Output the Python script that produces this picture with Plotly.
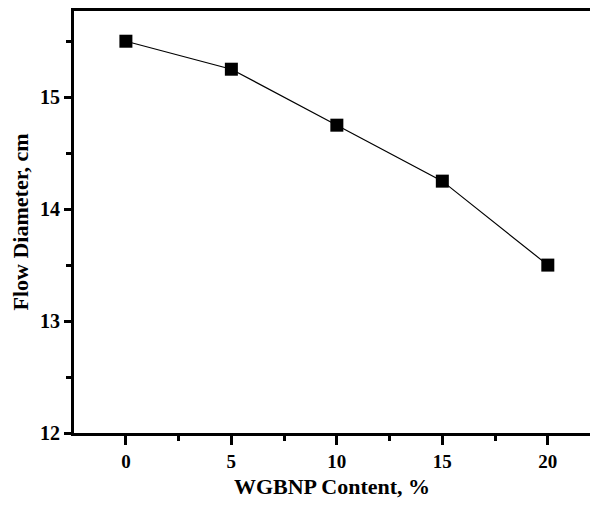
import plotly.graph_objects as go

# WGBNP content (%) and measured flow diameter (cm)
content = [0, 5, 10, 15, 20]
flow_diameter = [15.5, 15.25, 14.75, 14.25, 13.5]
x_ticks = [0, 5, 10, 15, 20]
y_ticks = [12, 13, 14, 15]

font_family = "Liberation Serif, Times New Roman, serif"

fig = go.Figure(
    go.Scatter(
        x=content,
        y=flow_diameter,
        mode="lines+markers",
        line=dict(color="black", width=1.2),
        marker=dict(symbol="square", size=13, color="black"),
        showlegend=False,
    )
)

fig.update_layout(
    width=590,
    height=509,
    margin=dict(l=74, r=0, t=11, b=76),
    paper_bgcolor="white",
    plot_bgcolor="white",
    font=dict(family=font_family, color="black"),
)

fig.update_xaxes(
    range=[-2.46, 22.0],
    tickvals=x_ticks,
    ticktext=[f"<b>{v}</b>" for v in x_ticks],
    tickfont=dict(size=19, family=font_family),
    ticks="outside",
    ticklen=9,
    tickwidth=3,
    tickcolor="black",
    minor=dict(dtick=2.5, tick0=0, ticks="outside", ticklen=5, tickwidth=3, tickcolor="black"),
    showline=True,
    linecolor="black",
    linewidth=3,
    mirror=True,
    showgrid=False,
    zeroline=False,
    title=dict(text="<b>WGBNP Content, %</b>", font=dict(size=22, family=font_family), standoff=8),
)

fig.update_yaxes(
    range=[12, 15.77],
    tickvals=y_ticks,
    ticktext=[f"<b>{v}</b>" for v in y_ticks],
    tickfont=dict(size=20, family=font_family),
    ticks="outside",
    ticklen=7,
    tickwidth=3,
    tickcolor="black",
    minor=dict(dtick=0.5, tick0=12, ticks="outside", ticklen=5, tickwidth=3, tickcolor="black"),
    showline=True,
    linecolor="black",
    linewidth=3,
    mirror=False,
    showgrid=False,
    zeroline=False,
    title=dict(text="<b>Flow Diameter, cm</b>", font=dict(size=22, family=font_family), standoff=6),
)

fig.write_html("out.html")
